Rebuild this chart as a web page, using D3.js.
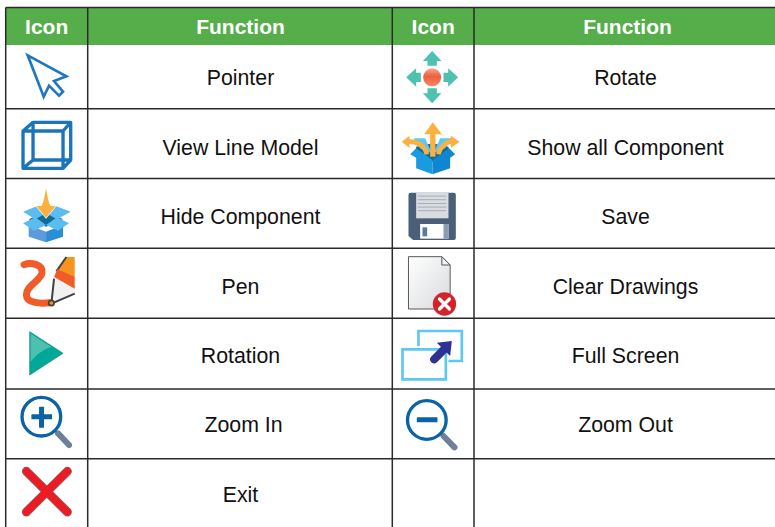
<!DOCTYPE html>
<html><head><meta charset="utf-8">
<script src="https://cdn.jsdelivr.net/npm/d3@7/dist/d3.min.js"></script>
<style>html,body{margin:0;padding:0;background:#fff;overflow:hidden}svg{display:block}text{font-family:"Liberation Sans",Arial,sans-serif}</style>
</head><body><svg id="c" width="775" height="527"></svg>
<script>
const headers = ["Icon","Function","Icon","Function"];
const leftFunctions = ["Pointer","View Line Model","Hide Component","Pen","Rotation","Zoom In","Exit"];
const rightFunctions = ["Rotate","Show all Component","Save","Clear Drawings","Full Screen","Zoom Out",""];
const leftIcons = ["pointer","cube","hide","pen","play","zoomIn","exit"];
const rightIcons = ["rotate","showAll","save","clear","full","zoomOut",null];

const W = 775, H = 527;
const rows = d3.range(leftFunctions.length);
const colEdges = [5.7, 87.7, 392.3, 474, 776];
const rowLines = [108.7, 178.5, 248.3, 318.3, 389, 458.7];
const iconY = d3.scaleOrdinal(rows, [76.5, 144, 214, 284, 354, 424, 493]);
const textY = d3.scaleOrdinal(rows, [77.5, 147.5, 216.5, 286.5, 355.5, 424.5, 494.5]);
const colMid = i => (colEdges[i] + colEdges[i + 1]) / 2;
const svg = d3.select("#c");

svg.append("rect").attr("x", colEdges[0]).attr("y", 8).attr("width", W - colEdges[0]).attr("height", 37).attr("fill", "#55ae4a");

const defs = svg.append("defs");
const lg = (id, stops, x2, y2) => {
  const g = defs.append("linearGradient").attr("id", id).attr("x1", 0).attr("y1", 0).attr("x2", x2).attr("y2", y2);
  stops.forEach(([o, c]) => g.append("stop").attr("offset", o).attr("stop-color", c));
};
lg("ball", [[0, "#f4a88a"], [.45, "#ee5f3f"], [1, "#f08a66"]], 0, 1);
lg("doc", [[0, "#ffffff"], [1, "#d8dadc"]], 1, 1);

const P = (g, d, fill, extra = {}) => {
  const p = g.append("path").attr("d", d).attr("fill", fill);
  Object.entries(extra).forEach(([k, v]) => p.attr(k, v));
  return p;
};
const S = (g, d, stroke, w, extra = {}) => P(g, d, "none", { stroke, "stroke-width": w, ...extra });
const R = (g, x, y, w, h, fill, rx = 0) => g.append("rect").attr("x", x).attr("y", y).attr("width", w).attr("height", h).attr("fill", fill).attr("rx", rx);
const C = (g, cx, cy, r, fill, stroke, sw) => g.append("circle").attr("cx", cx).attr("cy", cy).attr("r", r).attr("fill", fill).attr("stroke", stroke || "none").attr("stroke-width", sw || 0);
const BLUE = "#1b75bb", GOLD = "#fbb040", TEAL = "#4fc1b0";

/* pictograms are drawn at 3x in their own space, with [cx, cy] at the cell centre */
const icons = {
  pointer: { c: [141, 229.5], draw: g => S(g, "M84,166L200,229L163,243L190,275L178,287L148,257L132,290Z", "#1f78bf", 8, { "stroke-linejoin": "miter" }) },
  cube: { c: [141, 432], draw: g => {
    const d = "M70,393H190V505H70ZM100,367H213V480H100ZM70,393L100,367M190,393L213,367M190,505L213,480M70,505L100,480";
    S(g, d, BLUE, 10, { "stroke-linejoin": "round" });
  } },
  hide: { c: [141, 102], draw: g => {
    P(g, "M87,118L139,95L190,118L139,140Z", "#0f6d97");
    P(g, "M70,95L113,78L139,100L107,118Z", "#5cbcf0");
    P(g, "M213,95L168,78L139,100L172,118Z", "#5cbcf0");
    P(g, "M87,135L139,155L139,187L87,170Z", "#5b9bd9");
    P(g, "M190,135L139,155L139,187L190,170Z", "#2a8fd8");
    P(g, "M70,130L107,112L139,135L103,152Z", "#5cbcf0");
    P(g, "M208,130L172,112L139,135L175,152Z", "#5cbcf0");
    P(g, "M139,25C143,50 147,68 152,78H168L139,113L110,78H126C131,68 135,50 139,25Z", GOLD, { stroke: "#fff", "stroke-width": 4, "paint-order": "stroke" });
  } },
  pen: { c: [96, 96], draw: g => {
    S(g, "M28,38C50,30 85,38 82,62C80,85 35,100 35,128C35,155 80,155 105,152", "#f15a29", 21, { "stroke-linecap": "round" });
    P(g, "M118,80L180,110V125L110,155Z", "#f1f1f2");
    S(g, "M180,125L110,155L118,80", "#414042", 6);
    P(g, "M155,15H180V75L128,55Z", "#f7941d");
    S(g, "M155,15L125,58", "#414042", 6);
    P(g, "M118,75L128,52L180,74V110Z", "#f15a29");
    C(g, 110, 153, 8, "#f7941d", "#414042", 5);
  } },
  play: { c: [141, 1062], draw: g => {
    P(g, "M90,995L190,1060L90,1125Z", "#00a997", { stroke: "#0f8a7f", "stroke-width": 2 });
    P(g, "M93,1001L155,1041C130,1048 108,1065 93,1085Z", "#4dc0b0");
  } },
  zoomIn: { c: [141, 192], draw: g => {
    S(g, "M175,220L208,255", "#6d7f99", 18, { "stroke-linecap": "round" });
    C(g, 125, 170, 58, "#fff", "#0a63a5", 10);
    R(g, 95, 163, 62, 15, "#0a63a5", 2);
    R(g, 118, 140, 15, 63, "#0a63a5", 2);
  } },
  exit: { c: [141, 399], draw: g => {
    const d = "M80,334L203,456M203,334L80,456";
    S(g, d, "#77787b", 27, { "stroke-linecap": "round" });
    S(g, d, "#ed1c24", 23, { "stroke-linecap": "round" });
  } },
  rotate: { c: [144, 229.5], draw: g => {
    P(g, "M141,153L113,183H127V197H155V183H169Z", TEAL);
    P(g, "M141,310L113,280H127V265H155V280H169Z", TEAL);
    P(g, "M63,232L93,205V218H107V246H93V260Z", TEAL);
    P(g, "M219,232L189,205V218H175V246H189V260Z", TEAL);
    C(g, 141, 232, 27, "url(#ball)");
  } },
  showAll: { c: [99, 87], draw: g => {
    P(g, "M48,95L97,85L145,95L150,125L97,140L45,125Z", "#0f6d97");
    P(g, "M40,70H75L95,115L60,100Z", "#5cc8f7");
    P(g, "M155,70H120L100,115L135,100Z", "#5cc8f7");
    S(g, "M80,118C75,92 50,78 25,80", GOLD, 14);
    P(g, "M5,80L28,62V99Z", GOLD);
    S(g, "M115,118C120,92 145,78 155,80", GOLD, 14);
    P(g, "M178,80L152,62V99Z", GOLD);
    R(g, 90, 55, 16, 70, GOLD);
    P(g, "M98,22L72,58H125Z", GOLD);
    P(g, "M30,118L48,100L97,135V178L48,160V128Z", "#1b9ae0");
    P(g, "M165,118L147,100L97,135V178L150,160V128Z", "#0f86d0");
  } },
  save: { c: [144, 102], draw: g => {
    P(g, "M76,38H206Q212,38 212,44V174Q212,180 206,180H84L70,168V44Q70,38 76,38Z", "#4b5f78");
    R(g, 93, 38, 97, 77, "#d9dce0");
    d3.range(5).forEach(i => R(g, 98, 47 + i * 11, 85, 2.5, "#9aa3ad"));
    R(g, 105, 132, 85, 44, "#ffffff");
    R(g, 112, 142, 14, 27, "#5d7a9a");
    R(g, 175, 132, 15, 44, "#8a9db3");
  } },
  clear: { c: [144, 132], draw: g => {
    P(g, "M70,50H170L195,75V207H70Z", "url(#doc)", { stroke: "#58595b", "stroke-width": 3 });
    P(g, "M170,50V75H195Z", "#f1f2f2", { stroke: "#58595b", "stroke-width": 3 });
    C(g, 178, 192, 35, "#d2232a");
    S(g, "M163,177L193,207M193,177L163,207", "#fff", 10, { "stroke-linecap": "round" });
  } },
  full: { c: [114, 96], draw: g => {
    S(g, "M70,72V27H200V117H160", "#5cc8f5", 8);
    S(g, "M22,82H152V172H22Z", "#5cc8f5", 8);
    S(g, "M117,112L155,74", "#2e3192", 24, { "stroke-linecap": "round" });
    P(g, "M170,57L125,62L165,102Z", "#2e3192");
  } },
  zoomOut: { c: [144, 192], draw: g => {
    S(g, "M175,228L208,262", "#6d7f99", 18, { "stroke-linecap": "round" });
    C(g, 125, 180, 58, "#fff", "#0a63a5", 10);
    R(g, 95, 172, 62, 15, "#0a63a5", 2);
  } }
};

const iconLayer = svg.append("g");
[[0, leftIcons], [2, rightIcons]].forEach(([col, names]) => {
  iconLayer.selectAll(null).data(rows.filter(r => names[r])).join("g").each(function (r) {
    const ic = icons[names[r]];
    const g = d3.select(this).attr("transform",
      `translate(${colMid(col)},${iconY(r)}) scale(${1 / 3}) translate(${-ic.c[0]},${-ic.c[1]})`);
    ic.draw(g);
  });
});

const lines = svg.append("g").attr("stroke", "#2a2a2a").attr("stroke-width", 1.5);
lines.selectAll(".h").data(rowLines).join("line").attr("x1", colEdges[0]).attr("x2", W).attr("y1", d => d).attr("y2", d => d);
lines.append("line").attr("x1", colEdges[0]).attr("x2", W).attr("y1", 7.5).attr("y2", 7.5);
lines.selectAll(".v").data(colEdges.slice(0, 4)).join("line").attr("x1", d => d).attr("x2", d => d).attr("y1", 7.5).attr("y2", H);

svg.append("g").selectAll("text").data(headers).join("text")
  .attr("x", (d, i) => colMid(i) + (i === 1 ? 0.5 : i === 3 ? 2.5 : 0)).attr("y", 33.5).attr("text-anchor", "middle")
  .attr("font-size", 21).attr("font-weight", "bold").attr("fill", "#fff").text(d => d);

[[1, leftFunctions], [3, rightFunctions]].forEach(([col, names]) => {
  svg.append("g").selectAll("text").data(rows.filter(r => names[r])).join("text")
    .attr("x", r => colMid(col) + 0.5 + (col === 1 && r === 5 ? 3 : 0)).attr("y", r => textY(r)).attr("dy", "0.35em").attr("text-anchor", "middle")
    .attr("font-size", 21.3).attr("fill", "#111").text(r => names[r]);
});
</script></body></html>
